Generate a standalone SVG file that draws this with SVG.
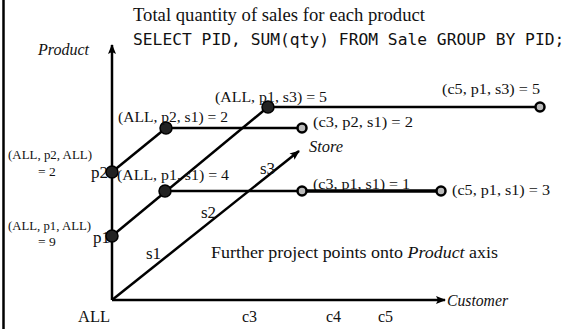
<svg xmlns="http://www.w3.org/2000/svg" width="569" height="329" viewBox="0 0 569 329">
<style>
.t{font-family:"Liberation Serif","Times New Roman",serif;fill:#111}
.s{font-size:14.5px}
.sm{font-size:13.5px}
.m{font-size:16px}
.l{font-size:17px}
.i{font-style:italic}
.mono{font-family:"DejaVu Sans Mono","Liberation Mono",monospace;font-size:16.3px;fill:#111}
.ln{stroke:#000;stroke-width:2.5;fill:none}
.fp{fill:#222;stroke:#000;stroke-width:1.5}
.hp{fill:#bbb;stroke:#000;stroke-width:2.5}
</style>
<defs>
<marker id="ah" markerWidth="10" markerHeight="8" refX="9" refY="4" orient="auto" markerUnits="userSpaceOnUse">
<path d="M0,0 L10,4 L0,8 L2,4 Z" fill="#000"/>
</marker>
</defs>
<rect x="0" y="0" width="569" height="329" fill="#fff"/>
<line x1="3.5" y1="0" x2="3.5" y2="329" stroke="#000" stroke-width="2.5"/>
<g id="title">
<text class="t" font-size="18.5" x="133" y="21" textLength="292" lengthAdjust="spacingAndGlyphs">Total quantity of sales for each product</text>
<text class="mono" x="133" y="45">SELECT PID, SUM(qty) FROM Sale GROUP BY PID;</text>
</g>
<g id="connectors">
<line class="ln" x1="112" y1="300" x2="112" y2="45" marker-end="url(#ah)"/>
<line class="ln" x1="112" y1="300" x2="445" y2="300" marker-end="url(#ah)"/>
<line class="ln" x1="112" y1="300" x2="299" y2="151" marker-end="url(#ah)"/>
<line class="ln" x1="112" y1="172" x2="166" y2="128"/>
<line class="ln" x1="112" y1="236" x2="268" y2="107"/>
<line class="ln" x1="268" y1="107" x2="540" y2="107"/>
<line class="ln" x1="166" y1="128" x2="302" y2="128"/>
<line class="ln" x1="165" y1="191" x2="302" y2="191"/>
</g>
<g id="axis-labels">
<text class="t m i" x="38" y="55" textLength="51" lengthAdjust="spacingAndGlyphs">Product</text>
<text class="t m i" x="309" y="152" textLength="34" lengthAdjust="spacingAndGlyphs">Store</text>
<text class="t m i" x="447" y="306" textLength="61" lengthAdjust="spacingAndGlyphs">Customer</text>
<text class="t" font-size="16.5" x="78" y="322">ALL</text>
<text class="t m" x="242" y="322">c3</text>
<text class="t m" x="326" y="322">c4</text>
<text class="t m" x="378" y="322">c5</text>
<text class="t l" x="146" y="259">s1</text>
<text class="t l" x="201" y="218">s2</text>
<text class="t l" x="260" y="174">s3</text>
<text class="t l" x="91" y="178">p2</text>
<text class="t l" x="93" y="243">p1</text>
</g>
<g id="n-all-p2-all">
<circle class="fp" cx="112" cy="172" r="6"/>
<text class="t sm" x="8" y="159" textLength="84" lengthAdjust="spacingAndGlyphs">(ALL, p2, ALL)</text>
<text class="t sm" x="38" y="176">= 2</text>
</g>
<g id="n-all-p1-all">
<circle class="fp" cx="112" cy="236" r="6"/>
<text class="t sm" x="8" y="230" textLength="83" lengthAdjust="spacingAndGlyphs">(ALL, p1, ALL)</text>
<text class="t sm" x="38" y="246">= 9</text>
</g>
<g id="n-all-p2-s1">
<circle class="fp" cx="166" cy="128" r="6"/>
<text class="t s" x="118" y="122" textLength="110" lengthAdjust="spacingAndGlyphs">(ALL, p2, s1) = 2</text>
</g>
<g id="n-all-p1-s1">
<circle class="fp" cx="165" cy="191" r="6"/>
<text class="t s" x="117" y="180" textLength="112" lengthAdjust="spacingAndGlyphs">(ALL, p1, s1) = 4</text>
</g>
<g id="n-all-p1-s3">
<circle class="fp" cx="268" cy="107" r="6"/>
<text class="t s" x="215" y="102" textLength="112" lengthAdjust="spacingAndGlyphs">(ALL, p1, s3) = 5</text>
</g>
<g id="n-c5-p1-s3">
<circle class="hp" cx="540" cy="107" r="4.5"/>
<text class="t s" x="442" y="94" textLength="98" lengthAdjust="spacingAndGlyphs">(c5, p1, s3) = 5</text>
</g>
<g id="n-c3-p2-s1">
<circle class="hp" cx="302" cy="128" r="4.5"/>
<text class="t s" x="313" y="127" textLength="100" lengthAdjust="spacingAndGlyphs">(c3, p2, s1) = 2</text>
</g>
<g id="n-c3-p1-s1">
<text class="t s" x="313" y="189" textLength="97" lengthAdjust="spacingAndGlyphs">(c3, p1, s1) = 1</text>
<line x1="302" y1="191" x2="441" y2="191" stroke="#000" stroke-width="3.5"/>
<circle class="hp" cx="302" cy="191" r="4.5"/>
</g>
<g id="n-c5-p1-s1">
<circle class="hp" cx="441" cy="191" r="4.5"/>
<text class="t s" x="452" y="195" textLength="98" lengthAdjust="spacingAndGlyphs">(c5, p1, s1) = 3</text>
</g>
<g id="note">
<text class="t" font-size="17.5" x="211" y="258" textLength="287" lengthAdjust="spacingAndGlyphs">Further project points onto <tspan class="i">Product</tspan> axis</text>
</g>
</svg>
